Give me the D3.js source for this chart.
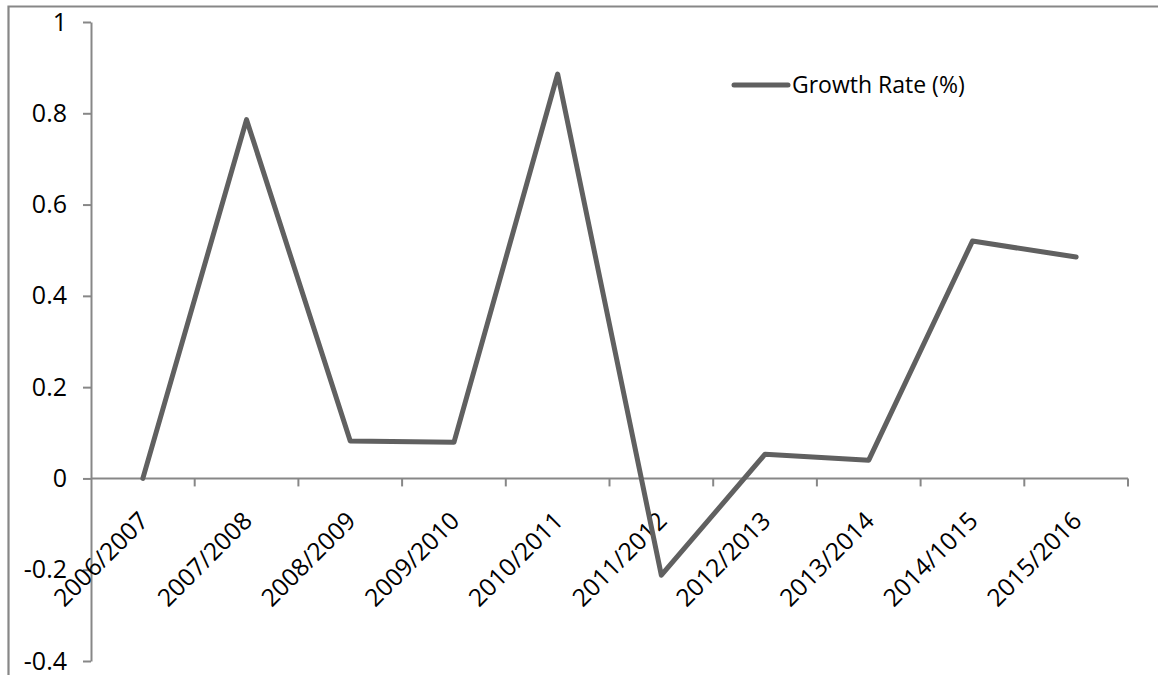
<!DOCTYPE html>
<html>
<head>
<meta charset="utf-8">
<script src="https://cdn.jsdelivr.net/npm/d3@7/dist/d3.min.js"></script>
<style>
  html, body { margin: 0; padding: 0; background: #fff; }
  svg { display: block; }
  text { font-family: "Open Sans", sans-serif; fill: #000; }
</style>
</head>
<body>
<svg id="chart" width="1158" height="675"></svg>
<script>
// Seasons shown along the horizontal axis
const categories = ["2006/2007", "2007/2008", "2008/2009", "2009/2010", "2010/2011",
                    "2011/2012", "2012/2013", "2013/2014", "2014/1015", "2015/2016"];
// Growth rate for each season
const growthRate = [0, 0.786, 0.082, 0.079, 0.886, -0.212, 0.053, 0.040, 0.520, 0.485];
// Vertical axis tick values
const yTicks = [-0.4, -0.2, 0, 0.2, 0.4, 0.6, 0.8, 1];
const seriesName = "Growth Rate (%)";

const svg = d3.select("#chart");
const W = 1158, H = 675;
const axisColor = "#878787";
const lineColor = "#606060";
const fontFamily = "Open Sans, sans-serif";

// outer chart frame (extends past the right and bottom edges)
svg.append("path")
  .attr("d", `M8.5,${H + 5}V6.5H${W + 5}`)
  .attr("fill", "none")
  .attr("stroke", axisColor)
  .attr("stroke-width", 2.2);

const plotLeft = 91, plotRight = 1128, plotTop = 22, plotBottom = 661;

const x = d3.scaleBand().domain(categories).range([plotLeft, plotRight]).paddingInner(0).paddingOuter(0);
const y = d3.scaleLinear().domain([-0.4, 1]).range([plotBottom, plotTop]);
const cx = c => x(c) + x.bandwidth() / 2;

// y axis
const yAxis = svg.append("g")
  .attr("transform", `translate(${plotLeft},0)`)
  .call(d3.axisLeft(y).tickValues(yTicks).tickSize(8).tickSizeOuter(0)
    .tickPadding(16).tickFormat(d => String(+d.toFixed(1))));
yAxis.select(".domain").attr("stroke", axisColor).attr("stroke-width", 2);
yAxis.selectAll(".tick line").attr("stroke", axisColor).attr("stroke-width", 2);
yAxis.selectAll(".tick text").attr("font-size", 25).attr("fill", "#000")
  .attr("font-family", fontFamily);

// x axis at zero, with ticks at the category boundaries
const y0 = y(0);
const xg = svg.append("g");
xg.append("line")
  .attr("x1", plotLeft).attr("x2", plotRight).attr("y1", y0).attr("y2", y0)
  .attr("stroke", axisColor).attr("stroke-width", 2);
const boundaries = categories.map(c => x(c)).slice(1).concat([plotRight]);
xg.selectAll("line.tk").data(boundaries).join("line")
  .attr("class", "tk")
  .attr("x1", d => d).attr("x2", d => d)
  .attr("y1", y0).attr("y2", y0 + 8)
  .attr("stroke", axisColor).attr("stroke-width", 2);

// rotated category labels
xg.selectAll("text").data(categories).join("text")
  .attr("transform", c => `translate(${cx(c) + 7},${y0 + 44}) rotate(-45)`)
  .attr("text-anchor", "end")
  .attr("font-size", 24.5)
  .text(c => c);

// growth line
const line = d3.line().x((d, i) => cx(categories[i])).y(d => y(d));
svg.append("path")
  .datum(growthRate)
  .attr("d", line)
  .attr("fill", "none")
  .attr("stroke", lineColor)
  .attr("stroke-width", 5)
  .attr("stroke-linejoin", "round")
  .attr("stroke-linecap", "round");

// legend
const lg = svg.append("g").attr("transform", "translate(734,85)");
lg.append("line").attr("x1", 0).attr("x2", 54).attr("y1", 0).attr("y2", 0)
  .attr("stroke", lineColor).attr("stroke-width", 5).attr("stroke-linecap", "round");
lg.append("text").attr("x", 58).attr("y", 8).attr("font-size", 23).text(seriesName);
</script>
</body>
</html>
